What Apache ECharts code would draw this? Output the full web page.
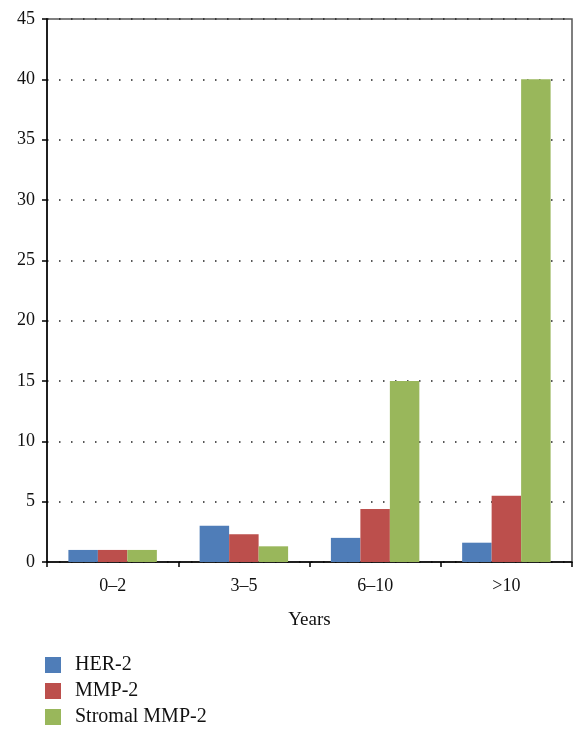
<!DOCTYPE html>
<html><head><meta charset="utf-8">
<script src="https://cdn.jsdelivr.net/npm/echarts@6/dist/echarts.min.js"></script>
<style>html,body{margin:0;padding:0;background:#fff}#c{width:576px;height:729px}</style>
</head><body><div id="c"></div>
<script>
var categories = ['0–2', '3–5', '6–10', '>10'];
var her2 = [1.0, 3.0, 2.0, 1.6];
var mmp2 = [1.0, 2.3, 4.4, 5.5];
var stromal = [1.0, 1.3, 15.0, 40.0];
var seriesNames = ['HER-2', 'MMP-2', 'Stromal MMP-2'];
var colors = ['#4F7DB8', '#BC4F4C', '#99B75B'];

var font = 'Liberation Serif';
var chart = echarts.init(document.getElementById('c'));
chart.setOption({
  animation: false,
  color: colors,
  textStyle: {fontFamily: font},
  grid: {left: 47, right: 4, top: 19, bottom: 167, show: true, borderColor: '#555', borderWidth: 1.5, backgroundColor: 'transparent'},
  legend: {
    orient: 'vertical', left: 45, top: 655, padding: 0, height: 200, width: 300,
    itemWidth: 16, itemHeight: 16, itemGap: 6,
    icon: 'rect',
    textStyle: {fontFamily: font, fontSize: 20, color: '#111', padding: [0, 0, 0, 9]},
    data: seriesNames
  },
  xAxis: {
    type: 'category', data: categories,
    name: 'Years', nameLocation: 'middle', nameGap: 49,
    nameTextStyle: {fontFamily: font, fontSize: 19, color: '#111'},
    axisLine: {lineStyle: {color: '#000', width: 1.5}},
    axisTick: {show: true, length: 5, lineStyle: {color: '#000', width: 1.5}},
    axisLabel: {fontFamily: font, fontSize: 18, color: '#111', margin: 15}
  },
  yAxis: {
    type: 'value', min: 0, max: 45, interval: 5,
    axisLine: {show: true, lineStyle: {color: '#000', width: 1.5}},
    axisTick: {show: true, length: 5, lineStyle: {color: '#000', width: 1.5}},
    axisLabel: {fontFamily: font, fontSize: 18, color: '#111', margin: 12},
    splitLine: {show: true, lineStyle: {color: '#222', width: 1.5, type: [1.5, 10.5]}}
  },
  series: [
    {name: seriesNames[0], type: 'bar', data: her2, barGap: '0%', barCategoryGap: '32.6%'},
    {name: seriesNames[1], type: 'bar', data: mmp2, barGap: '0%', barCategoryGap: '32.6%'},
    {name: seriesNames[2], type: 'bar', data: stromal, barGap: '0%', barCategoryGap: '32.6%'}
  ]
});
</script></body></html>
